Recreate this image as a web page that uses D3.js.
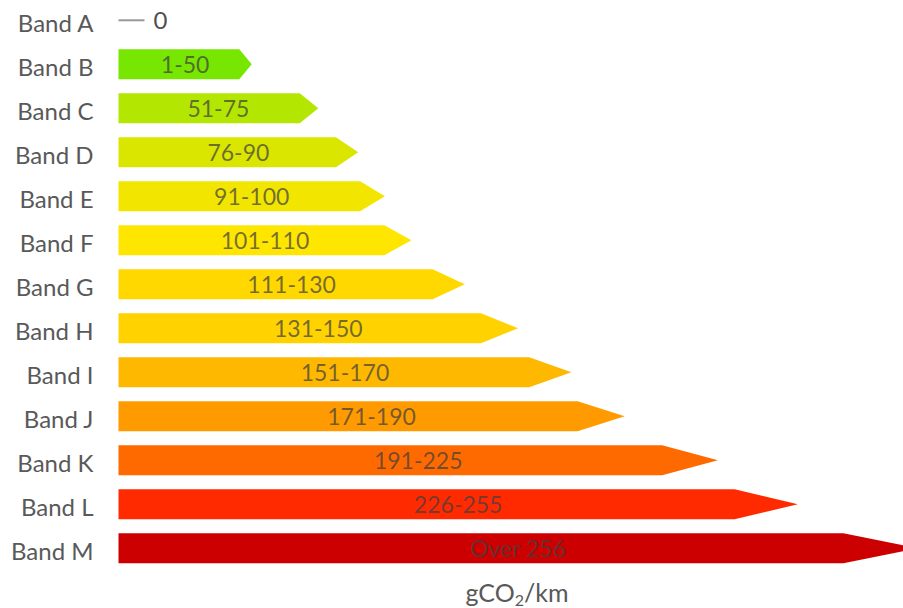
<!DOCTYPE html>
<html>
<head>
<meta charset="utf-8">
<script src="https://cdn.jsdelivr.net/npm/d3@7"></script>
<style>
  html, body { margin: 0; padding: 0; background: #fff; }
  svg { display: block; }
  text { font-family: Lato, "Open Sans", sans-serif; }
</style>
</head>
<body>
<svg id="chart" width="903" height="608"></svg>
<script>
// CO2 emission bands (upper bound of each range, g/km)
const bands = ["Band A", "Band B", "Band C", "Band D", "Band E", "Band F", "Band G",
               "Band H", "Band I", "Band J", "Band K", "Band L", "Band M"];
const upperBounds = [0, 50, 75, 90, 100, 110, 130, 150, 170, 190, 225, 255, 300];
const rangeLabels = ["0", "1-50", "51-75", "76-90", "91-100", "101-110", "111-130",
                     "131-150", "151-170", "171-190", "191-225", "226-255", "Over 256"];
const bandColors = ["#999999", "#77E600", "#B3E600", "#DAE600", "#F2E600", "#FFE600", "#FFD800",
                    "#FFD200", "#FFB800", "#FF9A00", "#FF6A00", "#FF2A00", "#CC0000"];
const axisTitle = ["gCO", "2", "/km"];

const svg = d3.select("#chart");
const W = 903, H = 608;

const x = d3.scaleLinear().domain([0, 300]).range([118.5, 917.7]);
const y = d3.scaleBand().domain(bands).range([-1.7, 570.3])
  .paddingInner(0.32).paddingOuter(0.16);

const rows = bands.map((b, i) => ({
  band: b, value: upperBounds[i], label: rangeLabels[i], color: bandColors[i]
}));

svg.append("defs").append("clipPath").attr("id", "plotClip")
  .append("rect").attr("x", 0).attr("y", 0).attr("width", W).attr("height", H);

const g = svg.append("g").attr("clip-path", "url(#plotClip)");

// Arrow-shaped bars: rectangular body with a pointed head at the value
function arrowPath(d) {
  const x0 = x(0), xt = x(d.value);
  const len = xt - x0;
  const xb = xt - len * 0.093;
  const top = y(d.band), bot = top + y.bandwidth(), mid = top + y.bandwidth() / 2;
  return `M${x0},${top}L${xb},${top}L${xt},${mid}L${xb},${bot}L${x0},${bot}Z`;
}

const nonZero = rows.filter(d => d.value > 0);
const zero = rows.filter(d => d.value === 0);

g.selectAll("path.bar").data(nonZero).enter().append("path")
  .attr("class", "bar")
  .attr("d", arrowPath)
  .attr("fill", d => d.color);

// Zero-value band drawn as a short dash with its label
g.selectAll("line.zero").data(zero).enter().append("line")
  .attr("class", "zero")
  .attr("x1", d => x(d.value))
  .attr("x2", d => x(d.value) + 26)
  .attr("y1", d => y(d.band) + y.bandwidth() / 2)
  .attr("y2", d => y(d.band) + y.bandwidth() / 2)
  .attr("stroke", d => d.color)
  .attr("stroke-width", 2);

g.selectAll("text.zeroLabel").data(zero).enter().append("text")
  .attr("class", "zeroLabel")
  .attr("x", d => x(d.value) + 35)
  .attr("y", d => y(d.band) + y.bandwidth() / 2 + 9)
  .attr("font-size", 24)
  .attr("fill", "#505050")
  .text(d => d.label);

// Range labels centred on each arrow
g.selectAll("text.range").data(nonZero).enter().append("text")
  .attr("class", "range")
  .attr("x", d => (x(0) + x(d.value)) / 2)
  .attr("y", d => y(d.band) + y.bandwidth() / 2 + 9)
  .attr("text-anchor", "middle")
  .attr("font-size", 23)
  .attr("fill", "#404040")
  .attr("fill-opacity", 0.72)
  .text(d => d.label);

// Category axis
const yAxis = svg.append("g").attr("transform", `translate(${x(0)},0)`)
  .call(d3.axisLeft(y).tickSize(0).tickPadding(25));
yAxis.select(".domain").remove();
yAxis.selectAll("text")
  .attr("font-size", 24)
  .attr("fill", "#595959")
  .attr("dy", "0.48em")
  .style("font-family", "Lato, 'Open Sans', sans-serif");

// Axis title with subscript
const title = svg.append("text")
  .attr("x", 517)
  .attr("y", 602)
  .attr("text-anchor", "middle")
  .attr("font-size", 25)
  .attr("fill", "#595959");
title.append("tspan").text(axisTitle[0]);
title.append("tspan").attr("font-size", 16).attr("dy", 4).text(axisTitle[1]);
title.append("tspan").attr("dy", -4).text(axisTitle[2]);
</script>
</body>
</html>
